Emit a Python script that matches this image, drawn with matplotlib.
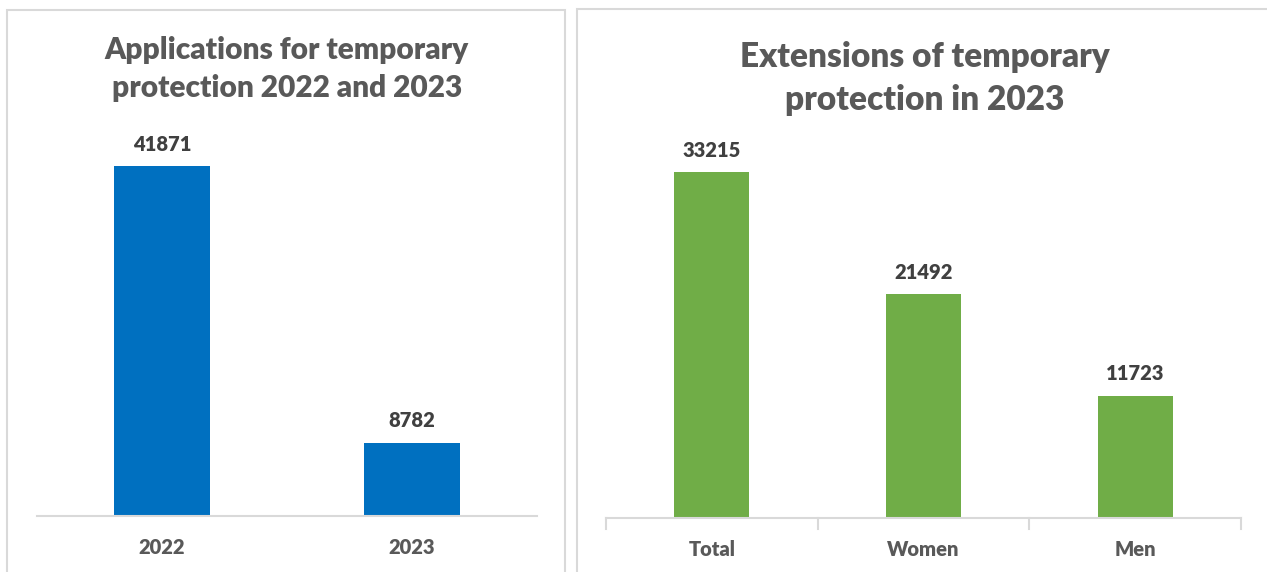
import matplotlib
matplotlib.use('Agg')
import matplotlib.pyplot as plt
from matplotlib.patches import Rectangle

plt.rcParams['font.family'] = ['Lato', 'DejaVu Sans']

# applications
years = ['2022', '2023']
applications = [41871, 8782]

# extensions by group
groups = ['Total', 'Women', 'Men']
extensions = [33215, 21492, 11723]

W, H = 1267, 572
fig = plt.figure(figsize=(W / 100, H / 100), dpi=100)

def fx(px):
    return px / W

def fy(py):
    return 1 - py / H

grid_col = '#D9D9D9'
title_col = '#595959'
label_col = '#404040'

# panel frames
fig.patches.append(Rectangle((fx(7), fy(600)), fx(558), fy(10) - fy(600),
                             transform=fig.transFigure, fill=False,
                             edgecolor=grid_col, linewidth=1.5))
fig.patches.append(Rectangle((fx(577), fy(600)), fx(720), fy(9) - fy(600),
                             transform=fig.transFigure, fill=False,
                             edgecolor=grid_col, linewidth=1.5))

# left chart
ax1 = fig.add_axes([fx(37), fy(516), fx(500), fy(132) - fy(516)])
b1 = ax1.bar(range(len(years)), applications, width=0.385, color='#0070C0')
ax1.set_ylim(0, 46000)
ax1.set_xlim(-0.5, 1.5)
ax1.set_xticks(range(len(years)))
ax1.set_xticklabels(years, fontweight='heavy')
ax1.bar_label(b1, padding=9, fontsize=14.5, fontweight='heavy', color=label_col)
fig.text(fx(287), fy(50), 'Applications for temporary', ha='center', va='center',
         fontsize=21.5, fontweight='heavy', color=title_col)
fig.text(fx(287), fy(88), 'protection 2022 and 2023', ha='center', va='center',
         fontsize=21.5, fontweight='heavy', color=title_col)

# right chart
ax2 = fig.add_axes([fx(606), fy(518), fx(635), fy(143) - fy(518)])
b2 = ax2.bar(range(len(groups)), extensions, width=0.355, color='#70AD47')
ax2.set_ylim(0, 36000)
ax2.set_xlim(-0.5, 2.5)
ax2.set_xticks(range(len(groups)))
ax2.set_xticklabels(groups, fontweight='heavy')
ax2.bar_label(b2, padding=9, fontsize=14.5, fontweight='heavy', color=label_col)
fig.text(fx(925), fy(57), 'Extensions of temporary', ha='center', va='center',
         fontsize=24, fontweight='heavy', color=title_col)
fig.text(fx(925), fy(100), 'protection in 2023', ha='center', va='center',
         fontsize=24, fontweight='heavy', color=title_col)

for ax in (ax1, ax2):
    for s in ('top', 'right', 'left'):
        ax.spines[s].set_visible(False)
    ax.spines['bottom'].set_color(grid_col)
    ax.spines['bottom'].set_linewidth(1.5)
    ax.set_yticks([])
    ax.patch.set_alpha(0)
    ax.tick_params(axis='x', length=0, pad=16, labelsize=14.5, labelcolor=title_col)

# category boundary ticks on the right chart
for x in [-0.5, 0.5, 1.5, 2.5]:
    ax2.plot([x, x], [0, -0.028], transform=ax2.get_xaxis_transform(),
             color=grid_col, linewidth=1.5, clip_on=False)

fig.savefig('out.png', dpi=100)
